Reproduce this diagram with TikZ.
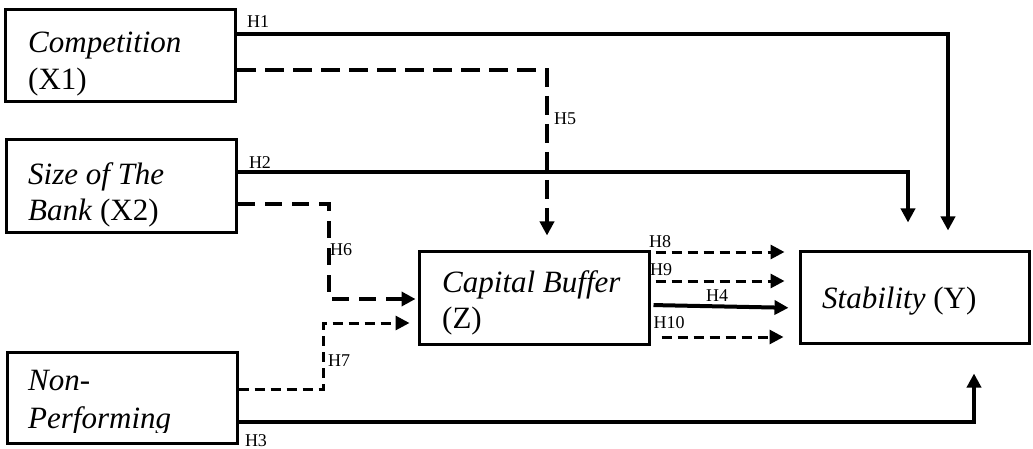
\documentclass[tikz,border=0pt]{standalone}
\usepackage{fontspec}
\setmainfont{Liberation Serif}
\usetikzlibrary{arrows.meta}
\begin{document}
\begin{tikzpicture}[x=1pt,y=-1pt,
  box/.style={draw,line width=3pt,rectangle,inner sep=0pt,minimum width=#1},
  box/.default=230pt,
  txt/.style={anchor=base west,inner sep=0pt,font=\fontsize{31}{37}\selectfont},
  lab/.style={inner sep=0pt,font=\fontsize{18}{20}\selectfont},
  tip/.style={-{Triangle[length=14pt,width=14pt]}},
  solidline/.style={line width=4pt,tip},
  bigdash/.style={line width=4pt,dash pattern=on 19pt off 9pt,tip},
  middash/.style={line width=3.5pt,dash pattern=on 17pt off 10pt,tip},
  smalldash/.style={line width=3pt,dash pattern=on 10pt off 6pt,tip}]
\useasboundingbox (0,0) rectangle (1033,449);

% variable boxes
\node[box, minimum height=92pt] (comp) at (120.5,56) {};
\node[box, minimum height=92pt] (size) at (121.5,186) {};
\node[box, minimum height=91pt] (npl)  at (122,397.5) {};
\node[box, minimum height=93pt] (cap)  at (534,297.5) {};
\node[box=229pt, minimum height=92pt] (stab) at (914.5,297) {};

% box texts
\node[txt] (compa) at (28,53) {\textit{Competition}};
\node[txt] (compb) at (28,90) {(X1)};
\node[txt] (sizea) at (28,185) {\textit{Size of The}};
\node[txt] (sizeb) at (28,220) {\textit{Bank} (X2)};
\begin{scope}
  \clip (10,355) rectangle (234,432);
  \node[txt] (npla) at (28,390) {\textit{Non-}};
  \node[txt] (nplb) at (28,428) {\textit{Performing}};
\end{scope}
\node[txt] (capa) at (442,292) {\textit{Capital Buffer}};
\node[txt] (capb) at (442,328) {(Z)};
\node[txt] (staba) at (822,308) {\textit{Stability} (Y)};

% direct effects on stability
\draw[solidline,shorten >=19pt] ([yshift=22pt]comp.east) -| ([xshift=33.5pt]stab.north);
\draw[solidline,shorten >=27pt] ([yshift=14pt]size.east) -| ([xshift=-6.5pt]stab.north);
\draw[solidline,shorten >=29pt] ([yshift=-24.5pt]npl.east) -| ([xshift=59.5pt]stab.south);

% effects on the capital buffer
\coordinate (c5) at (547,70);
\draw[bigdash,shorten >=14pt] ([yshift=-14pt]comp.east) -- (c5) -- (cap.north -| c5);
\coordinate (c6a) at (329,204);
\coordinate (c6b) at (329,299);
\draw[middash,shorten >=2pt] ([yshift=-18pt]size.east) -- (c6a) -- (c6b) -- ([yshift=-1.5pt]cap.west);
\coordinate (c7a) at (323,389);
\coordinate (c7b) at (323,323);
\draw[smalldash,shorten >=8pt] ([yshift=8.5pt]npl.east) -- (c7a) -- (c7b) -- ([yshift=-25.5pt]cap.west);

% capital buffer to stability
\draw[smalldash,shorten <=5pt,shorten >=14pt] ([yshift=45.5pt]cap.east) -- ([yshift=45pt]stab.west);
\draw[smalldash,shorten <=5pt,shorten >=14pt] ([yshift=16.5pt]cap.east) -- ([yshift=16pt]stab.west);
\draw[solidline,shorten <=3pt,shorten >=10pt] ([yshift=-7.5pt]cap.east) -- ([yshift=-11pt]stab.west);
\draw[smalldash,shorten <=11pt,shorten >=15pt] ([yshift=-39.5pt]cap.east) -- ([yshift=-40pt]stab.west);

% hypothesis labels
\node[lab] (h1) at (258,22) {H1};
\node[lab] (h2) at (260,163) {H2};
\node[lab] (h3) at (256,441) {H3};
\node[lab] (h5) at (565,119) {H5};
\node[lab] (h6) at (341,250) {H6};
\node[lab] (h7) at (339,361) {H7};
\node[lab] (h8) at (660,242) {H8};
\node[lab] (h9) at (661,270) {H9};
\node[lab] (h4) at (717,296) {H4};
\node[lab] (h10) at (669,323) {H10};
\end{tikzpicture}
\end{document}
